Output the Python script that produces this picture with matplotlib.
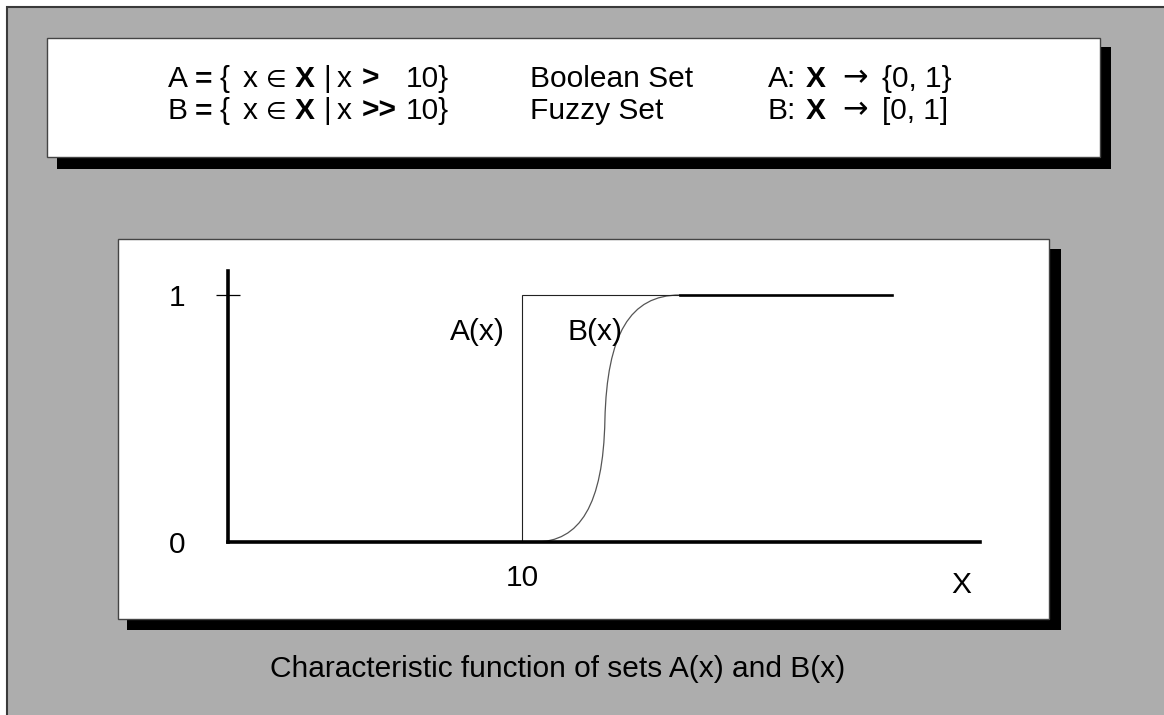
import matplotlib.pyplot as plt
from matplotlib.patches import Rectangle, PathPatch
from matplotlib.path import Path

# Data

# Boolean set A(x): step at x = 10
a_x = [10, 10, 22.6]
a_y = [0, 1, 1]

# Fuzzy set B(x): two cubic bezier pieces (start, ctrl, ctrl, mid, ctrl, ctrl, end)
b_x = [10.44, 11.97, 12.76, 12.82, 12.89, 13.67, 15.37]
b_y = [0, 0, 0.15, 0.494, 0.84, 1.0, 1.0]
b_tail_x = [15.37, 22.6]
b_tail_y = [1, 1]

y_ticks = [0, 1]
y_labels = ['0', '1']
x_ticks = [10]
x_labels = ['10']

# text pieces of the header: (text, weight, x pixel, size)
row_a = [('A', 'normal', 168, 21.5), ('=', 'bold', 195, 21.5), ('{', 'normal', 220, 21.5),
         ('x', 'normal', 243, 21.5), ('\u2208', 'normal', 266, 17), ('X', 'bold', 295, 21.5),
         ('|', 'normal', 323, 21.5), ('x', 'normal', 337, 21.5), ('>', 'bold', 362, 21.5),
         ('10}', 'normal', 406, 21.5)]
row_b = [('B', 'normal', 168, 21.5), ('=', 'bold', 195, 21.5), ('{', 'normal', 220, 21.5),
         ('x', 'normal', 243, 21.5), ('\u2208', 'normal', 266, 17), ('X', 'bold', 295, 21.5),
         ('|', 'normal', 323, 21.5), ('x', 'normal', 337, 21.5), ('>>', 'bold', 362, 21.5),
         ('10}', 'normal', 406, 21.5)]
set_names = ['Boolean Set', 'Fuzzy Set']
maps_a = [('A:', 'normal', 768, 21.5), ('X', 'bold', 806, 21.5), ('{0, 1}', 'normal', 882, 21.5)]
maps_b = [('B:', 'normal', 768, 21.5), ('X', 'bold', 806, 21.5), ('[0, 1]', 'normal', 882, 21.5)]
caption = 'Characteristic function of sets A(x) and B(x)'

plt.rcParams['font.family'] = ['Liberation Sans', 'DejaVu Sans']
fs = 21.5
gray = '#adadad'

fig = plt.figure(figsize=(11.64, 7.15), dpi=100)

# background drawing in pixel coords
bg = fig.add_axes([0, 0, 1, 1], zorder=0)
bg.set_xlim(0, 1164)
bg.set_ylim(715, 0)
bg.axis('off')

bg.add_patch(Rectangle((7, 7), 1170, 720, facecolor=gray, edgecolor='#3a3a3a', linewidth=1.5))

# top box + shadow
bg.add_patch(Rectangle((57, 47), 1054, 122, facecolor='black', edgecolor='none'))
bg.add_patch(Rectangle((47, 38), 1053, 119, facecolor='white', edgecolor='#444444', linewidth=1))

# chart box + shadow
bg.add_patch(Rectangle((127, 249), 934, 381, facecolor='black', edgecolor='none'))
bg.add_patch(Rectangle((118, 239), 931, 380, facecolor='white', edgecolor='#444444', linewidth=1))

for parts, base in [(row_a, 87), (row_b, 119), (maps_a, 87), (maps_b, 119)]:
    for s, w, x, size in parts:
        bg.text(x, base, s, fontsize=size, fontweight=w, va='baseline', ha='left')
for base in [87, 119]:
    bg.text(842, base - 1, '\u2192', fontsize=22, family='DejaVu Sans', va='baseline', ha='left')
bg.text(530, 87, set_names[0], fontsize=fs, va='baseline')
bg.text(530, 119, set_names[1], fontsize=fs, va='baseline')

bg.text(558, 677, caption, fontsize=fs, va='baseline', ha='center')
bg.text(961, 585, 'X', fontsize=fs, va='center', ha='center')

# the plot itself
ax = fig.add_axes([228 / 1164, 1 - 542 / 715, (980 - 228) / 1164, (542 - 271) / 715], zorder=1)
ax.patch.set_visible(False)
ax.set_xlim(0, (980 - 228) / 29.4)
ax.set_ylim(0, (542 - 271) / 247)
for side in ['top', 'right']:
    ax.spines[side].set_visible(False)
for side in ['left', 'bottom']:
    ax.spines[side].set_linewidth(2.6)
    ax.spines[side].set_capstyle('projecting')

ax.plot(a_x, a_y, color='#222222', linewidth=0.8, solid_joinstyle='miter')

verts = list(zip(b_x, b_y))
codes = [Path.MOVETO] + [Path.CURVE4] * 6
ax.add_patch(PathPatch(Path(verts, codes), facecolor='none', edgecolor='#555555', linewidth=0.9))
ax.plot(b_tail_x, b_tail_y, color='black', linewidth=1.9)

ax.yaxis.remove_overlapping_locs = False
ax.set_yticks(y_ticks)
ax.set_yticklabels(y_labels, fontsize=fs)
ax.tick_params(axis='y', which='major', length=0, pad=31)
ax.set_yticks([1], minor=True)
ax.tick_params(axis='y', which='minor', direction='inout', length=17, width=0.9, color='black')
ax.set_xticks(x_ticks)
ax.set_xticklabels(x_labels, fontsize=fs)
ax.tick_params(axis='x', length=0, pad=16)

ax.text(505 / 29.4 - 228 / 29.4, 0.85, 'A(x)', fontsize=fs, ha='right', va='center')
ax.text(568 / 29.4 - 228 / 29.4, 0.85, 'B(x)', fontsize=fs, ha='left', va='center')

fig.savefig('out.png', dpi=100)
